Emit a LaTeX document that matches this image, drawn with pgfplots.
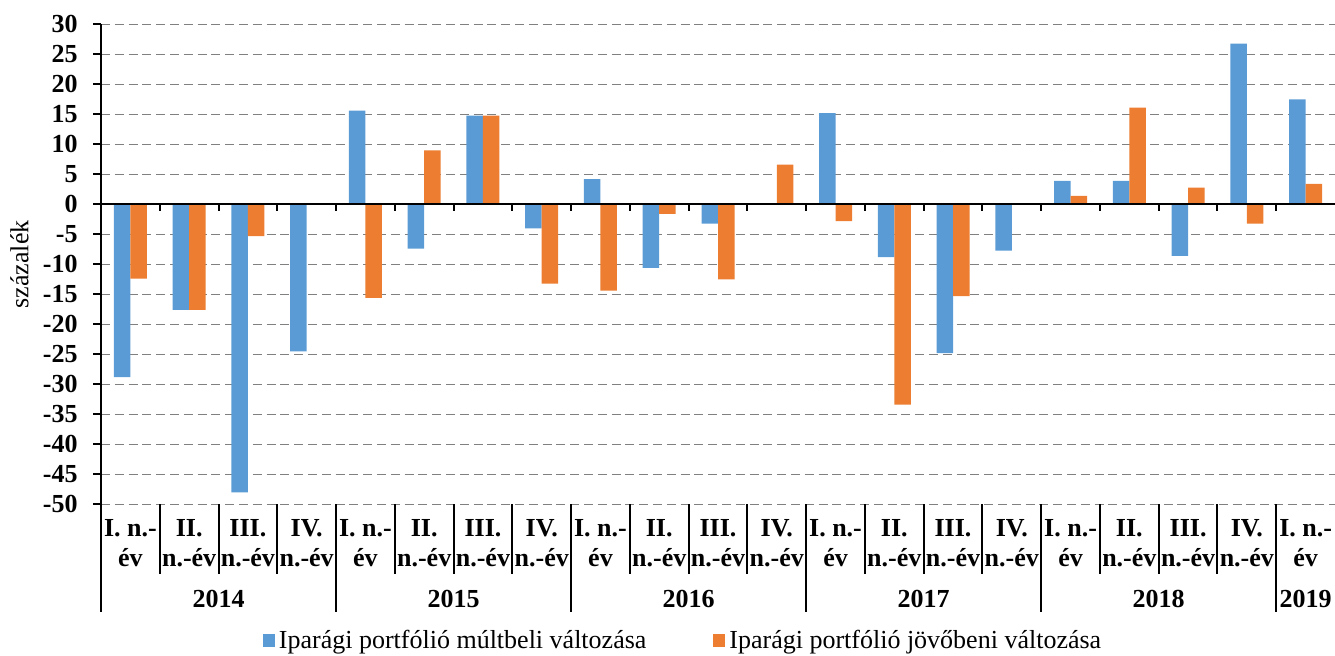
\documentclass[border=0pt]{standalone}
\usepackage{pgfplots}
\pgfplotsset{compat=1.18}
\usepackage{fontspec}
\setmainfont{Liberation Serif}
\definecolor{cblue}{RGB}{91,155,213}
\definecolor{corange}{RGB}{237,125,49}
\definecolor{cgrid}{RGB}{128,128,128}
\newcommand\lfont{\fontsize{13}{15}\selectfont}
\newcommand\qlab[3]{%
  \node[font=\lfont\bfseries, anchor=base, inner sep=0pt, yshift=-16.2pt] at (axis cs:#1,-50) {#2};
  \node[font=\lfont\bfseries, anchor=base, inner sep=0pt, yshift=-31.2pt] at (axis cs:#1,-50) {#3};}
\newcommand\ylab[2]{%
  \node[font=\lfont\bfseries, anchor=base, inner sep=0pt, yshift=-51.5pt] at (axis cs:#1,-50) {#2};}
\begin{document}
\begin{tikzpicture}
\useasboundingbox (0,0) rectangle (667.5pt,327.5pt);
\begin{axis}[
  at={(50.5pt,75.35pt)}, anchor=south west,
  scale only axis, width=617pt, height=240pt,
  xmin=-0.5, xmax=20.5, ymin=-50, ymax=30,
  ytick={-50,-45,...,30},
  xtick=\empty,
  axis x line=none,
  axis y line*=left,
  y axis line style={-, line width=1pt, black},
  ytick style={line width=1pt, black},
  tick align=outside,
  major tick length=4pt,
  ymajorgrids,
  major grid style={cgrid, line width=0.7pt, dash pattern=on 4.5pt off 2.4pt},
  /pgf/number format/assume math mode=true,
  yticklabel style={font=\lfont\bfseries, anchor=east, inner sep=0pt},
  yticklabel shift=7.5pt,
  ylabel={százalék},
  ylabel style={font=\lfont, at={(axis description cs:-0.066,0.5)}, anchor=center, rotate=0},
  ybar=0pt, bar width=8.25pt,
  clip=false,
  legend style={draw=none, font=\lfont, at={(axis description cs:0.4725,-0.284)}, anchor=center,
    legend columns=2, /tikz/every even column/.append style={column sep=31.5pt},
    /tikz/every odd column/.append style={column sep=0pt}},
  legend image code/.code={\fill[#1] (0pt,-3.2pt) rectangle (6pt,3.2pt);},
]
\addplot[fill=cblue, draw=none] coordinates {
(0,-28.8) (1,-17.6) (2,-48.0) (3,-24.5) (4,15.6) (5,-7.4) (6,14.8) (7,-4.0)
(8,4.2) (9,-10.6) (10,-3.2) (12,15.2) (13,-8.8) (14,-24.8) (15,-7.7)
(16,3.9) (17,3.9) (18,-8.6) (19,26.8) (20,17.5)};
\addlegendentry{Iparági portfólió múltbeli változása}
\addplot[fill=corange, draw=none] coordinates {
(0,-12.4) (1,-17.6) (2,-5.3) (4,-15.6) (5,9.0) (6,14.8) (7,-13.2)
(8,-14.4) (9,-1.6) (10,-12.5) (11,6.6) (12,-2.8) (13,-33.4) (14,-15.3)
(16,1.4) (17,16.1) (18,2.8) (19,-3.2) (20,3.4)};
\addlegendentry{Iparági portfólió jövőbeni változása}
% zero line and its ticks
\draw[line width=1pt] (axis cs:-0.5,0) -- (axis cs:20.5,0);
\pgfplotsinvokeforeach{0.5,1.5,2.5,3.5,4.5,5.5,6.5,7.5,8.5,9.5,10.5,11.5,12.5,13.5,14.5,15.5,16.5,17.5,18.5,19.5}{
  \draw[line width=1pt] (axis cs:#1,0) -- ++(0pt,-3.5pt);}
% separators below the axis
\pgfplotsinvokeforeach{0.5,1.5,2.5,4.5,5.5,6.5,8.5,9.5,10.5,12.5,13.5,14.5,16.5,17.5,18.5}{
  \draw[line width=1pt] (axis cs:#1,-50) -- ++(0pt,-34.8pt);}
\pgfplotsinvokeforeach{-0.5,3.5,7.5,11.5,15.5,19.5}{
  \draw[line width=1pt] (axis cs:#1,-50) -- ++(0pt,-53.7pt);}
% category labels
\qlab{0}{I. n.-}{év}\qlab{1}{II.}{n.-év}\qlab{2}{III.}{n.-év}\qlab{3}{IV.}{n.-év}
\qlab{4}{I. n.-}{év}\qlab{5}{II.}{n.-év}\qlab{6}{III.}{n.-év}\qlab{7}{IV.}{n.-év}
\qlab{8}{I. n.-}{év}\qlab{9}{II.}{n.-év}\qlab{10}{III.}{n.-év}\qlab{11}{IV.}{n.-év}
\qlab{12}{I. n.-}{év}\qlab{13}{II.}{n.-év}\qlab{14}{III.}{n.-év}\qlab{15}{IV.}{n.-év}
\qlab{16}{I. n.-}{év}\qlab{17}{II.}{n.-év}\qlab{18}{III.}{n.-év}\qlab{19}{IV.}{n.-év}
\qlab{20}{I. n.-}{év}
\ylab{1.5}{2014}\ylab{5.5}{2015}\ylab{9.5}{2016}\ylab{13.5}{2017}\ylab{17.5}{2018}\ylab{20}{2019}
\end{axis}
\end{tikzpicture}
\end{document}
